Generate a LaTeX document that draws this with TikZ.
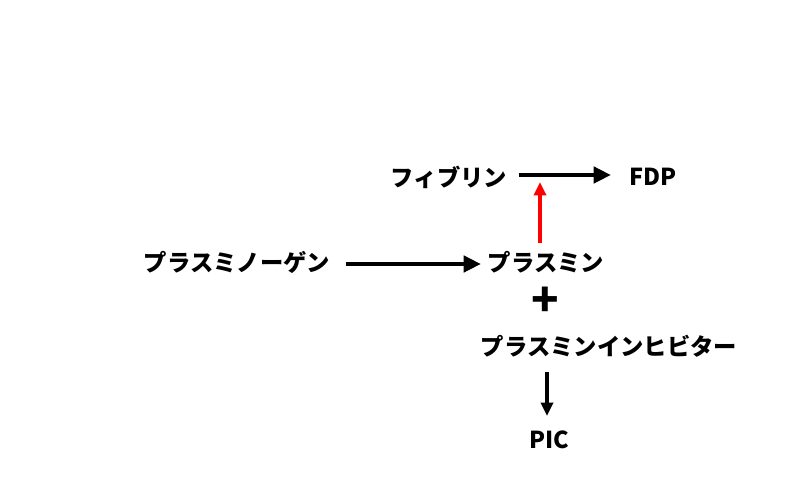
\documentclass[tikz,border=0pt]{standalone}
\usepackage{fontspec}
\setmainfont{Noto Sans CJK JP}
\usetikzlibrary{arrows.meta}
\begin{document}
\begin{tikzpicture}[x=0.75pt,y=-0.75pt,
  lbl/.style={inner sep=0pt,font=\fontsize{17.5}{20}\selectfont\bfseries},
  arr/.style={line width=3.6pt,-{Triangle[length=13pt,width=12pt]}},
  sarr/.style={line width=2.6pt,-{Triangle[length=10pt,width=9pt]}}]
\useasboundingbox (0,0) rectangle (800,488);
\node[lbl] (fib) at (449,177) {フィブリン};
\node[lbl] (fdp) at (653,177) {FDP};
\node[lbl] (plg) at (237,262) {プラスミノーゲン};
\node[lbl] (pl) at (546,262) {プラスミン};
\node[lbl,font=\fontsize{34}{34}\selectfont\bfseries] (plus) at (545,302) {+};
\node[lbl] (pi) at (609,346) {プラスミンインヒビター};
\node[lbl] (pic) at (549,440) {PIC};
\coordinate (fa) at (519,175);
\coordinate (fb) at (611,175);
\draw[arr] (fa) -- (fb);
\coordinate (pa) at (346,264);
\coordinate (pb) at (481,264);
\draw[arr] (pa) -- (pb);
\coordinate (ra) at (540,243);
\coordinate (rb) at (540,182);
\draw[sarr,red] (ra) -- (rb);
\coordinate (da) at (547,372);
\coordinate (db) at (547,416);
\draw[sarr] (da) -- (db);
\end{tikzpicture}
\end{document}
